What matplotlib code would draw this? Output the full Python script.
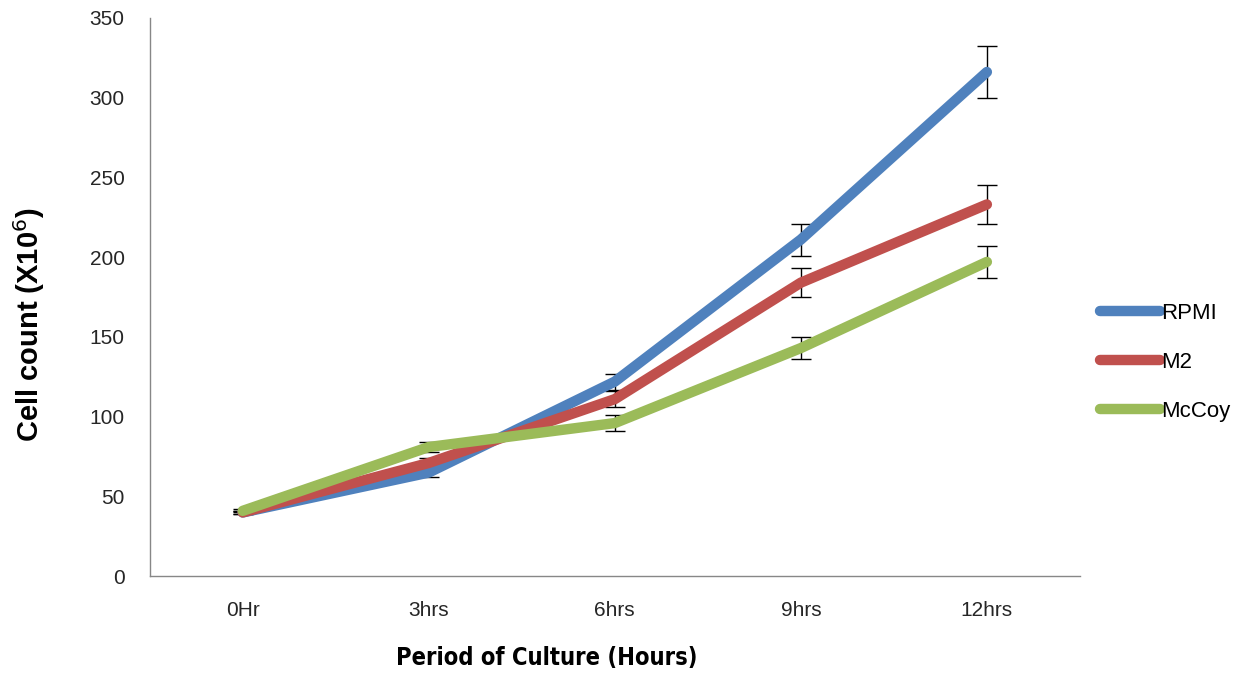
import matplotlib.pyplot as plt
import numpy as np
from matplotlib import font_manager

periods = ['0Hr', '3hrs', '6hrs', '9hrs', '12hrs']
rpmi = [40, 65, 122, 211, 316]
m2 = [40, 71, 111, 184, 233]
mccoy = [41, 81, 96, 143, 197]
rpmi_err = [1, 3, 5, 10, 16]
m2_err = [1, 3, 5, 9, 12]
mccoy_err = [1, 3, 5, 7, 10]

series = [('RPMI', rpmi, rpmi_err, '#4F81BD'),
          ('M2', m2, m2_err, '#C0504D'),
          ('McCoy', mccoy, mccoy_err, '#9BBB59')]

# narrow font for the x label if one is around
names = {f.name for f in font_manager.fontManager.ttflist}
narrow = 'Liberation Sans Narrow' if 'Liberation Sans Narrow' in names else None

plt.rcParams['font.family'] = ['Liberation Sans', 'DejaVu Sans']

fig = plt.figure(figsize=(12.37, 6.82), dpi=100)
ax = fig.add_axes([0.121, 0.155, 0.752, 0.819])
x = np.arange(len(periods))

for name, vals, err, col in series:
    ax.errorbar(x, vals, yerr=err, fmt='none', ecolor='black', elinewidth=1,
                capsize=7, capthick=1, zorder=1)
for name, vals, err, col in series:
    ax.plot(x, vals, color=col, lw=7.5, solid_capstyle='round',
            solid_joinstyle='round', label=name, zorder=2)

ax.set_xlim(-0.5, len(periods) - 0.5)
ax.set_ylim(0, 350)
ax.set_yticks(range(0, 351, 50))
ax.set_xticks(x)
ax.set_xticklabels(periods)
ax.tick_params(axis='both', length=0, labelsize=15, colors='#262626')
ax.tick_params(axis='x', pad=18)
ax.tick_params(axis='y', pad=18)
for s in ['top', 'right']:
    ax.spines[s].set_visible(False)
for s in ['left', 'bottom']:
    ax.spines[s].set_color('#878787')
    ax.spines[s].set_linewidth(1)

ax.set_ylabel('Cell count (X10$^{6}$)', fontsize=21, fontweight='bold')
ax.yaxis.set_label_coords(-0.11, 0.45)
if narrow:
    ax.set_xlabel('Period of Culture (Hours)', fontsize=19, fontweight='bold',
                  family=[narrow, 'DejaVu Sans'])
else:
    ax.set_xlabel('Period of Culture (Hours)', fontsize=17, fontweight='bold',
                  family='DejaVu Sans', fontstretch='condensed')
ax.xaxis.set_label_coords(0.427, -0.124)

leg = ax.legend(loc='center left', bbox_to_anchor=(1.0, 0.383), frameon=False,
                fontsize=16, handlelength=2.7, handletextpad=0.05,
                labelspacing=1.25)

fig.savefig('out.png', dpi=100)
